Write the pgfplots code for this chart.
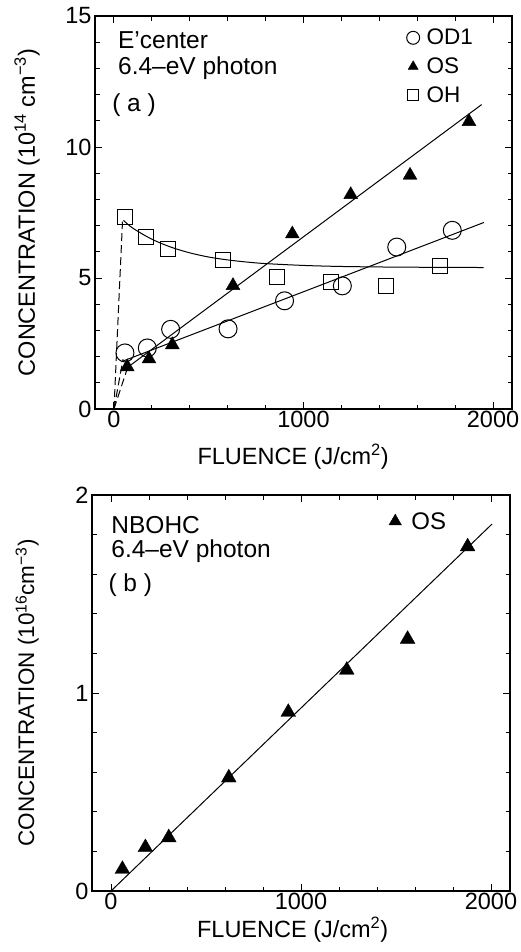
\documentclass[border=0pt]{standalone}
\usepackage{fontspec}
\setmainfont{Liberation Sans}
\usepackage{pgfplots}
\pgfplotsset{compat=1.18}
\newcommand{\tickfont}{\fontsize{23.5bp}{27bp}\selectfont}
\newcommand{\labfont}{\fontsize{23.5bp}{27bp}\selectfont}
\newcommand{\txtfont}{\fontsize{24.5bp}{28bp}\selectfont}
\newcommand{\legfont}{\fontsize{22.5bp}{26bp}\selectfont}
\pgfplotsset{
  common/.style={
    scale only axis,
    xmin=-100, xmax=2100,
    xtick={0,1000,2000},
    minor x tick num=4,
    tick align=inside,
    major tick length=7bp,
    minor tick length=4.5bp,
    axis line style={line width=1.2bp},
    every tick/.style={line width=1bp, black},
    /pgf/number format/assume math mode=true,
    /pgf/number format/1000 sep={},
    ticklabel style={font=\tickfont},
    label style={font=\labfont},
    xticklabel style={yshift=1bp},
    legend style={draw=none, fill=none, font=\legfont, inner sep=0pt, row sep=7.5bp},
    legend cell align=left,
  }
}
\begin{document}
\begin{tikzpicture}
\useasboundingbox (0,0) rectangle (521bp,-952bp);
% ---------------- panel (a)
\begin{axis}[common,
  at={(95bp,-409bp)}, anchor=south west,
  width=417bp, height=393bp,
  ymin=0, ymax=15, ytick={0,5,10,15}, minor y tick num=4,
  xlabel={FLUENCE (J/cm\textsuperscript{2})},
  ylabel={CONCENTRATION (10\textsuperscript{14} cm\textsuperscript{−3})},
  xlabel style={at={(axis description cs:0.475,-0.122)}, anchor=center},
  ylabel style={at={(axis description cs:-0.163,0.5)}, anchor=center},
  legend style={at={(rel axis cs:0.747,0.972)}, anchor=north west},
  legend image code/.code={\draw[#1, mark size=0.72\pgfplotmarksize] plot coordinates {(0cm,0cm)};},
]
% fit lines
\addplot[black, line width=1bp, forget plot] coordinates {(44,1.82) (1952,7.12)};
\addplot[black, line width=1bp, forget plot] coordinates {(70,1.58) (1940,11.62)};
\addplot[black, line width=1bp, smooth, forget plot] coordinates {
 (50,7.2) (100,6.90) (200,6.48) (300,6.18) (400,5.96) (500,5.80) (600,5.69)
 (700,5.61) (800,5.55) (1000,5.48) (1200,5.44) (1500,5.415) (1950,5.40)};
\addplot[black, line width=1bp, dash pattern=on 8bp off 4bp, forget plot] coordinates {(0,0) (45,7.15)};
\addplot[black, line width=1bp, dash pattern=on 8bp off 4bp, forget plot] coordinates {(0,0) (48,1.9)};
\addplot[black, line width=1bp, dash pattern=on 8bp off 4bp, forget plot] coordinates {(0,0) (72,1.58)};
% data
\addplot[black, only marks, mark=o, mark size=9bp, mark options={line width=1bp, fill=white}] coordinates {
 (58,2.14) (176,2.33) (299,3.04) (602,3.06) (900,4.13) (1205,4.70) (1492,6.18) (1785,6.82)};
\addlegendentry{\hspace{5bp}OD1}
\addplot[black, only marks, mark=triangle*, mark size=8bp, mark options={fill=black}] coordinates {
 (70,1.61) (185,1.91) (308,2.45) (628,4.71) (941,6.68) (1249,8.18) (1562,8.92) (1873,10.97)};
\addlegendentry{\hspace{5bp}OS}
\addplot[black, only marks, mark=square, mark size=7.5bp, mark options={line width=1bp, fill=white}] coordinates {
 (56,7.33) (171,6.56) (287,6.12) (575,5.67) (858,5.03) (1143,4.86) (1434,4.71) (1719,5.47)};
\addlegendentry{\hspace{5bp}OH}
\node[anchor=base west, font=\txtfont, inner sep=0pt] at (rel axis cs:0.055,0.918) {E'center};
\node[anchor=base west, font=\txtfont, inner sep=0pt] at (rel axis cs:0.055,0.850) {6.4--eV photon};
\node[anchor=west, font=\txtfont, inner sep=0pt] at (rel axis cs:0.041,0.774) {( a )};
\end{axis}
% ---------------- panel (b)
\begin{axis}[common,
  at={(92bp,-891bp)}, anchor=south west,
  width=418bp, height=396bp,
  ymin=0, ymax=2, ytick={0,1,2}, minor y tick num=4,
  xlabel={FLUENCE (J/cm\textsuperscript{2})},
  ylabel={CONCENTRATION (10\textsuperscript{16}cm\textsuperscript{−3})},
  ylabel style={font=\fontsize{22.5bp}{26bp}\selectfont},
  xlabel style={at={(axis description cs:0.48,-0.098)}, anchor=center},
  ylabel style={at={(axis description cs:-0.155,0.5)}, anchor=center},
  legend style={at={(rel axis cs:0.71,0.962)}, anchor=north west, font=\fontsize{24bp}{28bp}\selectfont},
  legend image code/.code={\draw[#1, mark size=0.85\pgfplotmarksize] plot coordinates {(0cm,0cm)};},
]
\addplot[black, line width=1bp, forget plot] coordinates {(0,0) (2005,1.853)};
\addplot[black, only marks, mark=triangle*, mark size=8.5bp, mark options={fill=black}] coordinates {
 (60,0.11) (181,0.22) (304,0.27) (620,0.572) (933,0.903) (1241,1.116) (1561,1.272) (1877,1.739)};
\addlegendentry{\hspace{8bp}OS}
\node[anchor=base west, font=\txtfont, inner sep=0pt] at (rel axis cs:0.046,0.903) {NBOHC};
\node[anchor=base west, font=\txtfont, inner sep=0pt] at (rel axis cs:0.046,0.842) {6.4--eV photon};
\node[anchor=west, font=\txtfont, inner sep=0pt] at (rel axis cs:0.039,0.773) {( b )};
\end{axis}
\end{tikzpicture}
\end{document}
